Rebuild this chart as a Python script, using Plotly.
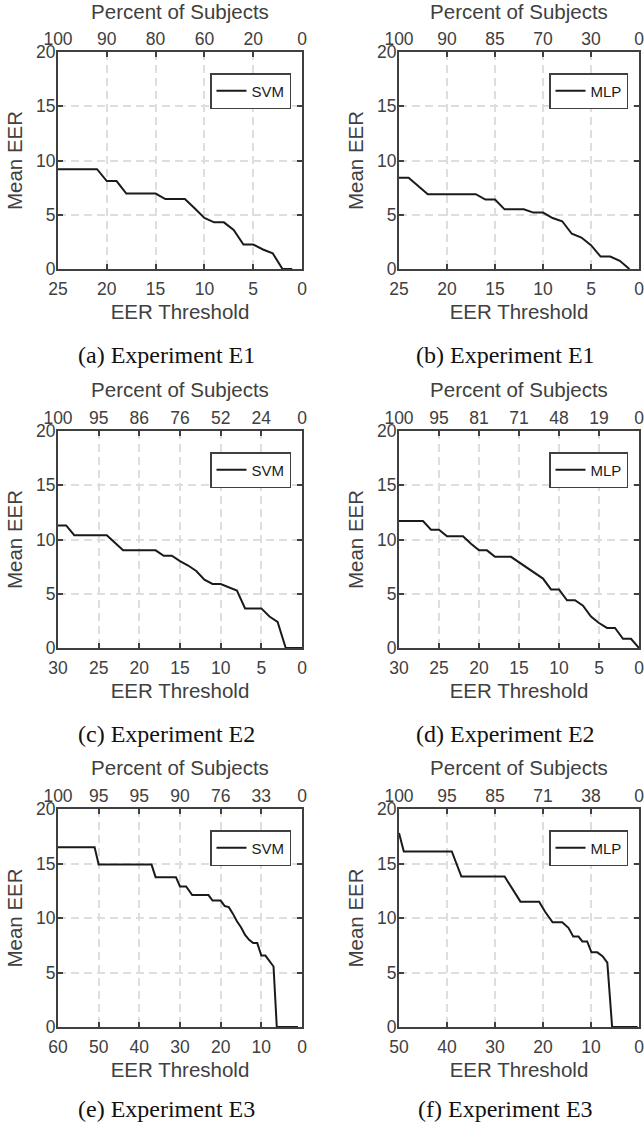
import plotly.graph_objects as go

# ---------------- data ----------------
thr_a = [25, 21, 20, 19, 18, 15, 14, 12, 11, 10, 9, 8, 7, 6, 5, 4, 3, 2, 1]
eer_a = [9.2, 9.2, 8.1, 8.1, 6.95, 6.95, 6.45, 6.45, 5.6, 4.7, 4.3, 4.3, 3.6, 2.25, 2.25, 1.8, 1.45, 0, 0]

thr_b = [25, 24, 22, 17, 16, 15, 14, 12, 11, 10, 9, 8, 7, 6, 5, 4, 3, 2, 1]
eer_b = [8.4, 8.4, 6.9, 6.9, 6.4, 6.4, 5.5, 5.5, 5.2, 5.2, 4.7, 4.4, 3.25, 2.9, 2.2, 1.15, 1.15, 0.75, 0]

thr_c = [30, 29, 28, 24, 23, 22, 18, 17, 16, 15, 14, 13, 12, 11, 10, 9, 8, 7, 5, 4, 3, 2, 0]
eer_c = [11.3, 11.3, 10.4, 10.4, 9.7, 9.0, 9.0, 8.5, 8.5, 8.0, 7.6, 7.1, 6.3, 5.9, 5.9, 5.6, 5.3, 3.65, 3.65, 2.9, 2.4, 0, 0]

thr_d = [30, 27, 26, 25, 24, 22, 21, 20, 19, 18, 16, 15, 14, 13, 12, 11, 10, 9, 8, 7, 6, 5, 4, 3, 2, 1, 0]
eer_d = [11.7, 11.7, 10.9, 10.9, 10.3, 10.3, 9.6, 9.0, 9.0, 8.4, 8.4, 7.9, 7.4, 6.9, 6.4, 5.4, 5.4, 4.4, 4.4, 3.9, 2.9, 2.3, 1.85, 1.85, 0.85, 0.85, 0]

thr_e = [60, 51, 50, 37, 36, 31, 30, 28.5, 27, 23, 22, 20, 19, 18, 17, 16, 15, 14, 13, 12, 11, 10, 9, 8, 7, 6.2, 1]
eer_e = [16.5, 16.5, 14.9, 14.9, 13.75, 13.75, 12.9, 12.9, 12.1, 12.1, 11.6, 11.6, 11.1, 11.0, 10.4, 9.7, 9.15, 8.45, 8.0, 7.7, 7.7, 6.55, 6.55, 6.1, 5.55, 0, 0]

thr_f = [50, 49, 39, 37, 28, 24.7, 20.8, 19.6, 18, 16, 14.7, 13.7, 12.6, 11.8, 10.8, 9.9, 8.7, 7.6, 6.6, 5.6, 0.3]
eer_f = [17.8, 16.1, 16.1, 13.8, 13.8, 11.5, 11.5, 10.6, 9.6, 9.6, 9.1, 8.3, 8.3, 7.85, 7.85, 6.85, 6.85, 6.5, 5.9, 0, 0]

ticks_25 = [25, 20, 15, 10, 5, 0]
ticks_30 = [30, 25, 20, 15, 10, 5, 0]
ticks_60 = [60, 50, 40, 30, 20, 10, 0]
ticks_50 = [50, 40, 30, 20, 10, 0]

pct_a = ["100", "90", "80", "60", "20", "0"]
pct_b = ["100", "90", "85", "70", "30", "0"]
pct_c = ["100", "95", "86", "76", "52", "24", "0"]
pct_d = ["100", "95", "81", "71", "48", "19", "0"]
pct_e = ["100", "95", "95", "90", "76", "33", "0"]
pct_f = ["100", "95", "85", "71", "38", "0"]

models = ["SVM", "MLP", "SVM", "MLP", "SVM", "MLP"]
captions = ["(a) Experiment E1", "(b) Experiment E1",
            "(c) Experiment E2", "(d) Experiment E2",
            "(e) Experiment E3", "(f) Experiment E3"]
y_ticks = [0, 5, 10, 15, 20]

panels = [
    (thr_a, eer_a, 25, ticks_25, pct_a),
    (thr_b, eer_b, 25, ticks_25, pct_b),
    (thr_c, eer_c, 30, ticks_30, pct_c),
    (thr_d, eer_d, 30, ticks_30, pct_d),
    (thr_e, eer_e, 60, ticks_60, pct_e),
    (thr_f, eer_f, 50, ticks_50, pct_f),
]

# ---------------- layout geometry (pixels) ----------------
W, H = 644, 1126
col_px = [(58, 302), (399, 639)]
row_px = [(52, 269), (431, 648), (809, 1027)]
cap_y_px = [355, 734, 1109]
cap_dx = -14

AX = "#404040"
GRID = "#dedede"
SANS = "Liberation Sans, Arial, sans-serif"
SERIF = "Liberation Serif, Times New Roman, serif"
TICK_FS = 17.5
TITLE_FS = 20.5

fig = go.Figure()
layout = dict(
    width=W, height=H,
    margin=dict(l=0, r=0, t=0, b=0),
    paper_bgcolor="white", plot_bgcolor="white",
    showlegend=True,
    font=dict(family=SANS, color=AX),
)
annotations = []

for i, (thr, eer, xmax, xt, pct) in enumerate(panels):
    r, c = divmod(i, 2)
    x0, x1 = col_px[c]
    yt, yb = row_px[r]
    xdom = [x0 / W, x1 / W]
    ydom = [1 - yb / H, 1 - yt / H]
    n = i + 1
    top_n = i + 7
    xs = "" if n == 1 else str(n)
    leg = "legend" if n == 1 else f"legend{n}"

    fig.add_trace(go.Scatter(
        x=thr, y=eer, mode="lines", name=models[i],
        line=dict(color="#1a1a1a", width=2),
        xaxis=f"x{xs}", yaxis=f"y{xs}", legend=leg,
    ))
    # companion (invisible) trace so the top "Percent of Subjects" axis is drawn
    fig.add_trace(go.Scatter(
        x=thr, y=eer, mode="lines", showlegend=False, hoverinfo="skip",
        line=dict(width=0), opacity=0,
        xaxis=f"x{top_n}", yaxis=f"y{xs}",
    ))

    layout[f"xaxis{xs}"] = dict(
        domain=xdom, anchor=f"y{xs}", range=[xmax, 0],
        tickmode="array", tickvals=xt,
        ticks="inside", ticklen=5, tickwidth=1.5, tickcolor=AX,
        showline=True, linecolor=AX, linewidth=2, mirror="ticks",
        showgrid=True, gridcolor=GRID, gridwidth=1.5, griddash="8px,5px",
        zeroline=False, ticklabelstandoff=3, ticklabeloverflow="allow",
        tickfont=dict(family=SANS, size=TICK_FS, color=AX),
        title=dict(text="EER Threshold", font=dict(family=SANS, size=TITLE_FS, color=AX), standoff=7),
        automargin=False,
    )
    layout[f"yaxis{xs}"] = dict(
        domain=ydom, anchor=f"x{xs}", range=[0, 20],
        tickmode="array", tickvals=y_ticks,
        ticks="inside", ticklen=5, tickwidth=1.5, tickcolor=AX,
        showline=True, linecolor=AX, linewidth=2, mirror="ticks",
        showgrid=True, gridcolor=GRID, gridwidth=1.5, griddash="8px,5px",
        zeroline=False, ticklabelstandoff=-3, ticklabeloverflow="allow",
        tickfont=dict(family=SANS, size=TICK_FS, color=AX),
        title=dict(text="Mean EER", font=dict(family=SANS, size=TITLE_FS, color=AX), standoff=8),
        automargin=False,
    )
    layout[f"xaxis{top_n}"] = dict(
        domain=xdom, overlaying=f"x{xs}", side="top", anchor=f"y{xs}",
        range=[xmax, 0], tickmode="array", tickvals=xt, ticktext=pct,
        ticks="", showline=False, showgrid=False, zeroline=False,
        ticklabelstandoff=3, ticklabeloverflow="allow",
        tickfont=dict(family=SANS, size=TICK_FS, color=AX),
        title=dict(text="Percent of Subjects", font=dict(family=SANS, size=TITLE_FS, color=AX), standoff=4),
        automargin=False,
    )
    layout[leg] = dict(
        x=(x1 - 11) / W, y=1 - (yt + 21) / H, xanchor="right", yanchor="top",
        bgcolor="white", bordercolor=AX, borderwidth=1.5,
        font=dict(family=SANS, size=15, color="#1a1a1a"),
        itemwidth=30,
    )
    annotations.append(dict(
        text=captions[i], xref="paper", yref="paper",
        x=((x0 + x1) / 2 + cap_dx) / W, y=1 - cap_y_px[r] / H,
        xanchor="center", yanchor="middle", showarrow=False,
        font=dict(family=SERIF, size=24, color="#111111"),
    ))

layout["annotations"] = annotations
fig.update_layout(**layout)
fig.write_html("out.html", config={"displayModeBar": False},
               post_script="document.body.style.margin='0';")
